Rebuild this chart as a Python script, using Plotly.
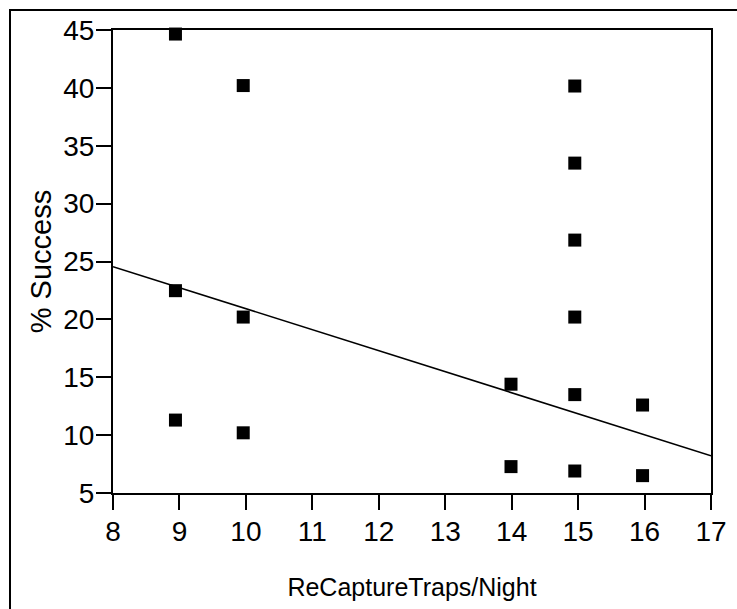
import plotly.graph_objects as go

traps = [8.94, 8.94, 8.94, 9.96, 9.96, 9.96, 13.99, 13.99,
         14.95, 14.95, 14.95, 14.95, 14.95, 14.95, 15.97, 15.97]
success = [44.65, 22.48, 11.3, 40.2, 20.2, 10.2, 14.4, 7.28,
           40.16, 33.5, 26.85, 20.2, 13.5, 6.9, 12.6, 6.5]

# Trend line end points
trend_x = [8, 17]
trend_y = [24.55, 8.22]

x_ticks = [8, 9, 10, 11, 12, 13, 14, 15, 16, 17]
y_ticks = [5, 10, 15, 20, 25, 30, 35, 40, 45]

FONT = "Arial"

fig = go.Figure()
fig.add_trace(go.Scatter(
    x=trend_x, y=trend_y, mode="lines",
    line=dict(color="black", width=1.6), showlegend=False, hoverinfo="skip"))
fig.add_trace(go.Scatter(
    x=traps, y=success, mode="markers",
    marker=dict(symbol="square", size=13, color="black", line=dict(width=0)),
    showlegend=False, cliponaxis=False))

L, R, T, B = 113, 26, 30, 116
W, H = 737, 609
pw, ph = W - L - R, H - T - B

TICK_SIZE = 28

axis_common = dict(
    showline=True, linecolor="black", linewidth=2, mirror=True,
    ticks="outside", ticklen=15, tickwidth=2, tickcolor="black",
    showgrid=False, zeroline=False,
)

fig.update_xaxes(
    range=[8, 17], tickvals=x_ticks, ticktext=[str(v) for v in x_ticks],
    ticklabelstandoff=-3,
    tickfont=dict(size=TICK_SIZE, family=FONT, color="black"),
    title=dict(text="ReCaptureTraps/Night", font=dict(family=FONT, size=25, color="black"),
               standoff=33),
    **axis_common)
fig.update_yaxes(
    range=[5, 45], tickvals=y_ticks, ticktext=[str(v) for v in y_ticks],
    ticklabelstandoff=-4,
    tickfont=dict(size=TICK_SIZE, family=FONT, color="black"),
    title=dict(text="% Success", font=dict(family=FONT, size=29, color="black"),
               standoff=3),
    **axis_common)

# Outer frame (left and top edges visible in the picture)
fig.add_shape(type="rect", xref="paper", yref="paper",
              x0=(10 - L) / pw, x1=(W + 20 - L) / pw,
              y0=-(B + 30) / ph, y1=1 + (T - 10) / ph,
              line=dict(color="black", width=2), fillcolor="rgba(0,0,0,0)", layer="below")

fig.update_layout(
    width=W, height=H,
    margin=dict(l=L, r=R, t=T, b=B, autoexpand=False),
    plot_bgcolor="white", paper_bgcolor="white",
    font=dict(family=FONT, color="black"),
)

fig.write_html("out.html")
